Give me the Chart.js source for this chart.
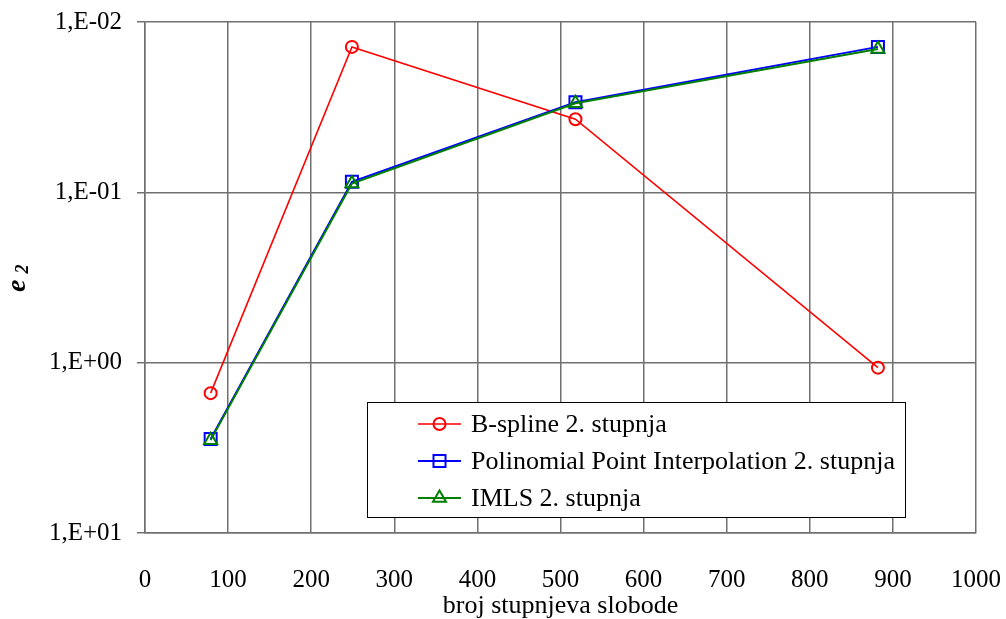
<!DOCTYPE html>
<html>
<head>
<meta charset="utf-8">
<script src="https://cdn.jsdelivr.net/npm/chart.js@4.4.0/dist/chart.umd.min.js"></script>
<style>
  html, body { margin: 0; padding: 0; background: #fff; }
  #wrap { width: 1006px; height: 619px; }
</style>
</head>
<body>
<div id="wrap"><canvas id="chart"></canvas></div>
<script>
// data
const dofValues = [79, 249, 518, 882];
const bsplineErr = [1.51, 0.0140, 0.0372, 1.07];
const ppiErr = [2.81, 0.0867, 0.0296, 0.0140];
const imlsErr = [2.85, 0.0887, 0.0300, 0.0144];

const seriesNames = ['B-spline 2. stupnja', 'Polinomial Point Interpolation 2. stupnja', 'IMLS 2. stupnja'];
const yTickValues = [0.01, 0.1, 1, 10];
const yTickLabels = ['1,E-02', '1,E-01', '1,E+00', '1,E+01'];
const xAxisTitle = 'broj stupnjeva slobode';

const FONT = 'Liberation Serif, Times New Roman, serif';
const GRID = '#707070';

const toPoints = (vals) => dofValues.map((x, i) => ({ x: x, y: vals[i] }));

const seriesStyle = [
    { color: '#ff0000', point: 'circle', radius: 6, width: 1.6, order: 2 },
    { color: '#0000ff', point: 'rect', radius: 8.5, width: 2, order: 1 },
    { color: '#008000', point: 'triangle', radius: 7.5, width: 2, order: 0 }
];
const seriesData = [bsplineErr, ppiErr, imlsErr];

// keep the plot area where the layout padding says
const noScalePadding = (scale) => {
    scale.paddingTop = 0;
    scale.paddingBottom = 0;
    scale.paddingLeft = 0;
    scale.paddingRight = 0;
};

// y axis title: bold italic "e" with subscript 2
const yTitlePlugin = {
    id: 'yTitle',
    afterDraw(chart) {
        const ctx = chart.ctx;
        ctx.save();
        ctx.translate(25, 292);
        ctx.rotate(-Math.PI / 2);
        ctx.fillStyle = '#000';
        ctx.textBaseline = 'alphabetic';
        ctx.font = 'italic bold 28px ' + FONT;
        ctx.fillText('e', 0, 0);
        const ew = ctx.measureText('e').width;
        ctx.font = 'italic bold 18px ' + FONT;
        ctx.fillText('2', ew + 6, 3);
        ctx.restore();
    }
};

// legend box sitting inside the plot area
const boxLegendPlugin = {
    id: 'boxLegend',
    afterDatasetsDraw(chart) {
        const ctx = chart.ctx;
        const bx = 367, by = 402, bw = 538, bh = 115;
        ctx.save();
        ctx.fillStyle = '#fff';
        ctx.fillRect(bx, by, bw, bh);
        ctx.strokeStyle = '#000';
        ctx.lineWidth = 1;
        ctx.strokeRect(bx + 0.5, by + 0.5, bw, bh);

        seriesNames.forEach((name, i) => {
            const st = seriesStyle[i];
            const cy = 424 + i * 37;
            ctx.strokeStyle = st.color;
            ctx.lineWidth = st.width;
            ctx.beginPath();
            ctx.moveTo(418, cy);
            ctx.lineTo(461, cy);
            ctx.stroke();
            ctx.fillStyle = 'rgba(0,0,0,0)';
            ctx.lineWidth = 2;
            Chart.helpers.drawPoint(ctx, {
                pointStyle: st.point,
                radius: st.radius,
                rotation: 0,
                borderWidth: 2
            }, 439.5, cy);

            ctx.fillStyle = '#000';
            ctx.font = '26px ' + FONT;
            ctx.textBaseline = 'middle';
            ctx.fillText(name, 471, cy + 1);
        });
        ctx.restore();
    }
};

new Chart(document.getElementById('chart'), {
    type: 'line',
    data: {
        datasets: seriesNames.map((name, i) => ({
            label: name,
            data: toPoints(seriesData[i]),
            borderColor: seriesStyle[i].color,
            backgroundColor: 'rgba(0,0,0,0)',
            borderWidth: seriesStyle[i].width,
            pointStyle: seriesStyle[i].point,
            pointRadius: seriesStyle[i].radius,
            pointBorderWidth: 2,
            pointBorderColor: seriesStyle[i].color,
            pointBackgroundColor: 'rgba(0,0,0,0)',
            tension: 0,
            order: seriesStyle[i].order
        }))
    },
    options: {
        responsive: true,
        maintainAspectRatio: false,
        animation: false,
        layout: { padding: { top: 22, right: 30, bottom: 0, left: 0 } },
        plugins: {
            legend: { display: false },
            tooltip: { enabled: false }
        },
        scales: {
            x: {
                type: 'linear',
                min: 0,
                max: 1000,
                ticks: {
                    stepSize: 100,
                    color: '#000',
                    padding: 32,
                    maxRotation: 0,
                    font: { family: FONT, size: 25 },
                    callback: (v) => String(v)
                },
                grid: { color: GRID, lineWidth: 1.5, drawTicks: false },
                border: { color: GRID, width: 1.5 },
                title: {
                    display: true,
                    text: xAxisTitle,
                    color: '#000',
                    padding: { top: 0, bottom: 0 },
                    font: { family: FONT, size: 26, lineHeight: 1 }
                },
                afterFit: (scale) => { scale.height = 86; noScalePadding(scale); }
            },
            y: {
                type: 'logarithmic',
                reverse: true,
                min: 0.01,
                max: 10,
                afterBuildTicks: (scale) => {
                    scale.ticks = yTickValues.map(v => ({ value: v, major: true }));
                },
                ticks: {
                    color: '#000',
                    padding: 15,
                    font: { family: FONT, size: 25 },
                    callback: (v) => yTickLabels[yTickValues.indexOf(v)]
                },
                grid: { color: GRID, lineWidth: 1.5, tickLength: 8 },
                border: { color: GRID, width: 1.5 },
                afterFit: (scale) => { scale.width = 145; noScalePadding(scale); }
            }
        }
    },
    plugins: [boxLegendPlugin, yTitlePlugin]
});
</script>
</body>
</html>
